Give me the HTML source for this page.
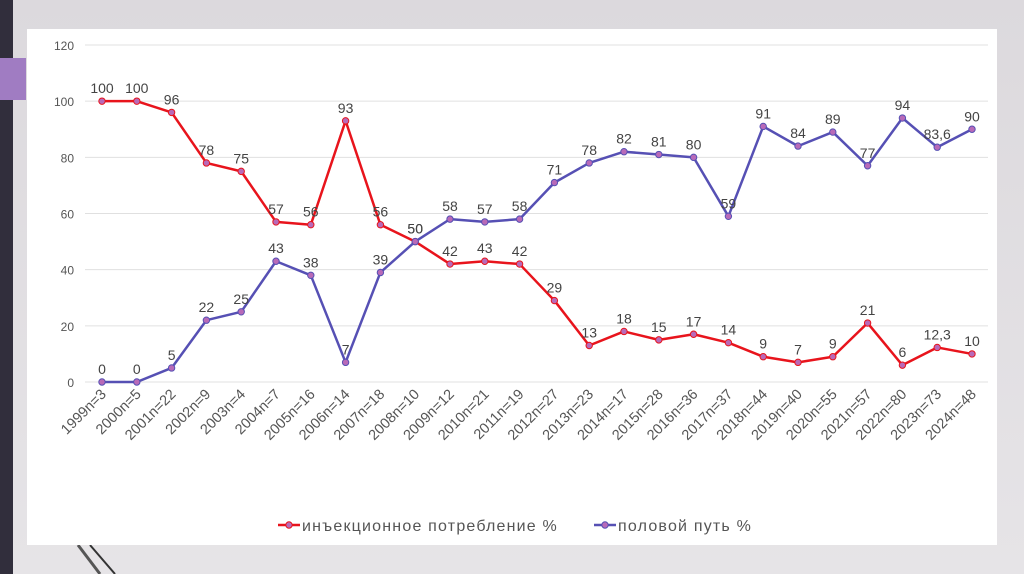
<!DOCTYPE html>
<html><head><meta charset="utf-8"><style>
body{margin:0;width:1024px;height:574px;overflow:hidden;background:linear-gradient(180deg,#dcd9dd,#e6e4e7);font-family:"Liberation Sans",sans-serif;position:relative}
#bar{position:absolute;left:0;top:0;width:13px;height:574px;background:#312e3c}
#acc{position:absolute;left:0;top:58px;width:26px;height:42px;background:#a07cc2}
#panel{position:absolute;left:27px;top:29px;width:970px;height:516px;background:#fff}
svg{position:absolute;left:0;top:0}
</style></head><body>
<div id="bar"></div>
<div id="acc"></div>
<svg width="1024" height="574">
<line x1="78" y1="545" x2="100" y2="574" stroke="#555" stroke-width="3"/>
<line x1="90" y1="545" x2="115" y2="574" stroke="#333" stroke-width="2"/>
</svg>
<div id="panel"></div>
<svg id="chart" width="1024" height="574"></svg>
<script>
const categories=["1999n=3","2000n=5","2001n=22","2002n=9","2003n=4","2004n=7","2005n=16","2006n=14","2007n=18","2008n=10","2009n=12","2010n=21","2011n=19","2012n=27","2013n=23","2014n=17","2015n=28","2016n=36","2017n=37","2018n=44","2019n=40","2020n=55","2021n=57","2022n=80","2023n=73","2024n=48"];
const injection=[100,100,96,78,75,57,56,93,56,50,42,43,42,29,13,18,15,17,14,9,7,9,21,6,12.3,10];
const sexual=[0,0,5,22,25,43,38,7,39,50,58,57,58,71,78,82,81,80,59,91,84,89,77,94,83.6,90];
const yTicks=[0,20,40,60,80,100,120];
const NS="http://www.w3.org/2000/svg";
const svg=document.getElementById('chart');
const x=i=>102+i*34.8;
const y=v=>382-v*(337/120);
function mk(t,a,p){const e=document.createElementNS(NS,t);for(const k in a)e.setAttribute(k,a[k]);(p||svg).appendChild(e);return e;}
const fmt=v=>String(v).replace('.',',');
yTicks.forEach(t=>{
  const l=mk('line',{x1:85,x2:988,y1:y(t),y2:y(t),stroke:'#e0e0e0','stroke-width':1});
  
  
  const tx=mk('text',{x:74,y:y(t)+5,'text-anchor':'end','font-size':12,fill:'#555'});
  tx.textContent=t;
  
  
});
categories.forEach((c,i)=>{
  const tx=mk('text',{x:x(i)+5,y:395,'text-anchor':'end','font-size':14.5,fill:'#555',transform:`rotate(-45 ${x(i)+5} 395)`});
  tx.textContent=c;
  
  
});
function series(vals,color,name){
  const pl=mk('polyline',{points:vals.map((v,i)=>x(i)+','+y(v)).join(' '),fill:'none',stroke:color,'stroke-width':2.5,'stroke-linejoin':'round'});
  
  
  vals.forEach((v,i)=>{
    const c=mk('circle',{cx:x(i),cy:y(v),r:3.2,fill:'#b86ab8',stroke:color,'stroke-width':1});
    
    
    const t=mk('text',{x:x(i),y:y(v)-8,'text-anchor':'middle','font-size':14,fill:'#444'});
    t.textContent=fmt(v);
    
    
  });
}
series(injection,'#e8141c','injection');
series(sexual,'#5650b4','sexual');
const lg=mk('g',{});


mk('line',{x1:278,x2:300,y1:525,y2:525,stroke:'#e8141c','stroke-width':2.5},lg);
mk('circle',{cx:289,cy:525,r:3.2,fill:'#b86ab8',stroke:'#e8141c'},lg);
const t1=mk('text',{x:302,y:531,'font-size':16,'letter-spacing':'1.2',fill:'#555'},lg);t1.textContent='инъекционное потребление %';


mk('line',{x1:594,x2:616,y1:525,y2:525,stroke:'#5650b4','stroke-width':2.5},lg);
mk('circle',{cx:605,cy:525,r:3.2,fill:'#b86ab8',stroke:'#5650b4'},lg);
const t2=mk('text',{x:618,y:531,'font-size':16,'letter-spacing':'1.2',fill:'#555'},lg);t2.textContent='половой путь %';


</script>
</body></html>
